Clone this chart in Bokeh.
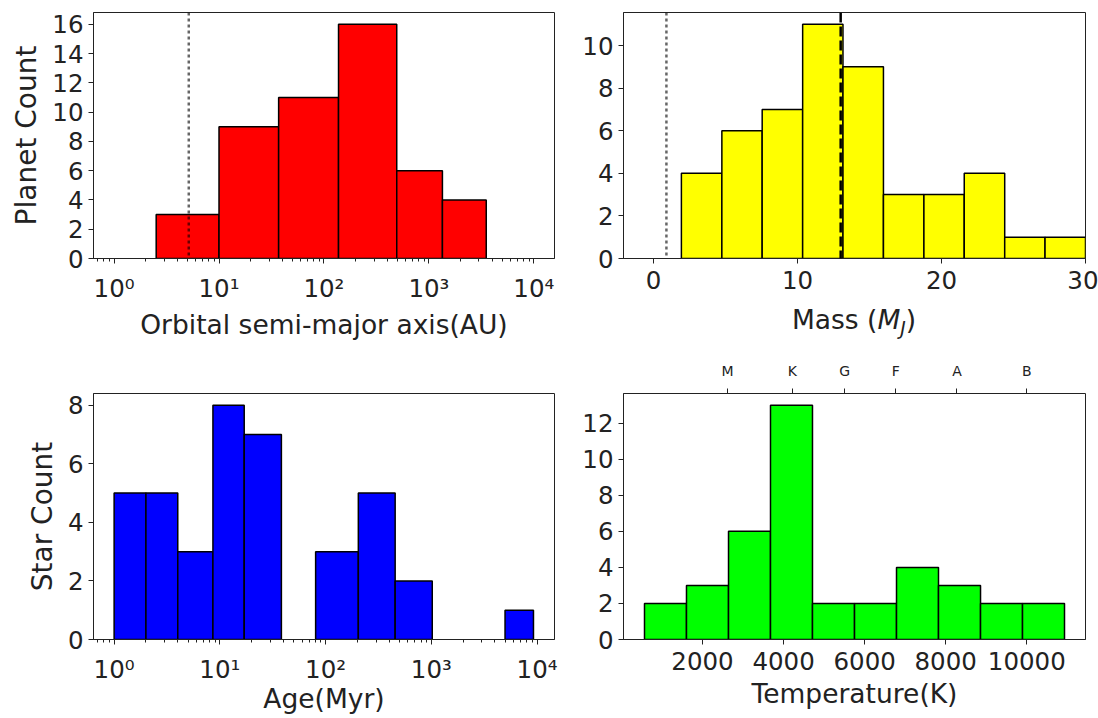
from bokeh.plotting import figure
from bokeh.models import Range1d, FixedTicker, LinearAxis, Span, Div
from bokeh.layouts import column, row
from bokeh.embed import file_html
from bokeh.resources import INLINE

# ---------------- data ----------------
semi_major_edges = [2.52, 10.0, 37.0, 137.7, 494.0, 1346.0, 3520.0]
planet_counts_sma = [3, 9, 11, 16, 6, 4]

mass_edges = [1.94, 4.75, 7.55, 10.36, 13.16, 15.97, 18.78, 21.58, 24.39, 27.19, 30.0]
planet_counts_mass = [4, 6, 7, 11, 9, 3, 3, 4, 1, 1]

age_left = [1.0, 2.0, 4.0, 8.6, 17.0, 80.5, 204.0, 455.0, 4980.0]
age_right = [2.0, 4.0, 8.6, 17.0, 38.2, 204.0, 455.0, 1021.0, 9250.0]
star_counts_age = [5, 5, 3, 8, 7, 3, 5, 2, 1]

temp_edges = [568, 1604, 2641, 3677, 4713, 5750, 6786, 7822, 8859, 9895, 10931]
star_counts_temp = [2, 3, 6, 13, 2, 2, 4, 3, 2, 2]

spectral_types = ["M", "K", "G", "F", "A", "B"]
spectral_temps = [2617, 4213, 5506, 6765, 8277, 10000]

jupiter_orbit_au = 5.15
jupiter_mass = 0.9
deuterium_limit = 13.0

log_ticks = [1, 10, 100, 1000, 10000]
log_labels = ["10\u2070", "10\u00b9", "10\u00b2", "10\u00b3", "10\u2074"]

# ---------------- styling ----------------
FONT = "DejaVu Sans"
TXT = "#222222"
TICK_FS = "24.5px"
XLABEL_FS = "26.5px"
YLABEL_FS = "28px"


def make_fig(x_range, y_range, x_type, bl, br, bt, bb, fw, fh):
    p = figure(x_axis_type=x_type, x_range=x_range, y_range=y_range,
               frame_width=fw, frame_height=fh,
               min_border_left=bl, min_border_right=br,
               min_border_top=bt, min_border_bottom=bb,
               output_backend="svg", toolbar_location=None)
    p.grid.visible = False
    p.outline_line_color = "#222222"
    p.outline_line_width = 1
    p.background_fill_color = "white"
    p.border_fill_color = "white"
    for ax in p.axis:
        ax.axis_line_color = "#222222"
        ax.axis_line_width = 1
        ax.major_tick_line_color = "#222222"
        ax.minor_tick_line_color = "#222222"
        ax.major_tick_out = 5
        ax.major_tick_in = 0
        ax.minor_tick_out = 3
        ax.minor_tick_in = 0
        ax.major_label_text_font = FONT
        ax.major_label_text_font_size = TICK_FS
        ax.major_label_text_color = TXT
        ax.major_label_standoff = 5
        ax.axis_label_text_font = FONT
        ax.axis_label_text_font_size = XLABEL_FS
        ax.axis_label_text_font_style = "normal"
        ax.axis_label_text_color = TXT
        ax.axis_label_standoff = 6
    p.yaxis.axis_label_text_font_size = YLABEL_FS
    p.xaxis.major_label_standoff = 7
    return p


def log_axis_setup(p, lo, hi):
    minor = [m * 10.0 ** k for k in range(-1, 5) for m in range(2, 10)]
    minor = [v for v in minor if lo <= v <= hi]
    p.xaxis.ticker = FixedTicker(ticks=log_ticks, minor_ticks=minor)
    p.xaxis.major_label_overrides = {t: lab for t, lab in zip(log_ticks, log_labels)}
    p.xaxis.major_label_standoff = 10


def ref_line(p, loc, color, alpha, width, dash):
    p.add_layout(Span(location=loc, dimension="height", line_color=color,
                      line_alpha=alpha, line_width=width, line_dash=dash))


# ---------------- panel 1: semi-major axis ----------------
x1lo, x1hi = 10 ** -0.196, 10 ** 4.197
p1 = make_fig(Range1d(x1lo, x1hi), Range1d(0, 16.8), "log", 93, 10, 12, 86, 461, 246)
p1.quad(left=semi_major_edges[:-1], right=semi_major_edges[1:], bottom=0,
        top=planet_counts_sma, fill_color="#ff0000", line_color="black", line_width=1.5)
log_axis_setup(p1, x1lo, x1hi)
p1.yaxis.ticker = FixedTicker(ticks=list(range(0, 17, 2)))
p1.yaxis.minor_tick_line_color = None
p1.xaxis.axis_label = "Orbital semi-major axis(AU)"
p1.xaxis.axis_label_standoff = 3
p1.yaxis.axis_label = "Planet Count"
ref_line(p1, jupiter_orbit_au, "black", 0.6, 2.5, "3 3")

# ---------------- panel 2: mass ----------------
p2 = make_fig(Range1d(-2.08, 30), Range1d(0, 11.55), "linear", 59, 13, 12, 42, 462, 246)
p2.quad(left=mass_edges[:-1], right=mass_edges[1:], bottom=0,
        top=planet_counts_mass, fill_color="#ffff00", line_color="black", line_width=1.5)
p2.xaxis.ticker = FixedTicker(ticks=[0, 10, 20, 30])
p2.yaxis.ticker = FixedTicker(ticks=list(range(0, 11, 2)))
p2.xaxis.minor_tick_line_color = None
p2.yaxis.minor_tick_line_color = None
ref_line(p2, jupiter_mass, "black", 0.6, 2.5, "3 3")
ref_line(p2, deuterium_limit, "black", 1.0, 2.5, "10 4")

mass_label = Div(
    text=('<div style="width:462px;text-align:center;font-family:\'DejaVu Sans\';'
          'font-size:26.5px;line-height:30px;color:#222222;padding-top:5px;">'
          'Mass (<i>M<sub style="font-size:70%;vertical-align:-0.3em;">J</sub></i>)</div>'),
    width=462, height=44, margin=(0, 13, 0, 59))

# ---------------- panel 3: age ----------------
x3lo, x3hi = 10 ** -0.195, 10 ** 4.165
p3 = make_fig(Range1d(x3lo, x3hi), Range1d(0, 8.4), "log", 93, 10, 49, 79, 461, 246)
p3.quad(left=age_left, right=age_right, bottom=0, top=star_counts_age,
        fill_color="#0000ff", line_color="black", line_width=1.5)
log_axis_setup(p3, x3lo, x3hi)
p3.yaxis.ticker = FixedTicker(ticks=list(range(0, 9, 2)))
p3.yaxis.minor_tick_line_color = None
p3.xaxis.axis_label = "Age(Myr)"
p3.xaxis.axis_label_standoff = -4
p3.yaxis.axis_label = "Star Count"

# ---------------- panel 4: temperature ----------------
p4 = make_fig(Range1d(50, 11449), Range1d(0, 13.65), "linear", 59, 13, 49, 79, 462, 246)
p4.quad(left=temp_edges[:-1], right=temp_edges[1:], bottom=0, top=star_counts_temp,
        fill_color="#00ff00", line_color="black", line_width=1.5)
p4.xaxis.ticker = FixedTicker(ticks=[2000, 4000, 6000, 8000, 10000])
p4.yaxis.ticker = FixedTicker(ticks=list(range(0, 13, 2)))
p4.xaxis.minor_tick_line_color = None
p4.yaxis.minor_tick_line_color = None
p4.xaxis.axis_label = "Temperature(K)"
p4.xaxis.axis_label_standoff = 5
top_axis = LinearAxis(ticker=FixedTicker(ticks=spectral_temps),
                      major_label_overrides={t: s for t, s in zip(spectral_temps, spectral_types)})
top_axis.axis_line_color = None
top_axis.major_tick_line_color = "#222222"
top_axis.major_tick_out = 5
top_axis.major_tick_in = 0
top_axis.minor_tick_line_color = None
top_axis.major_label_text_font = FONT
top_axis.major_label_text_font_size = "14px"
top_axis.major_label_text_color = TXT
top_axis.major_label_standoff = 10
p4.add_layout(top_axis, "above")

layout = column(row(p1, column(p2, mass_label)), row(p3, p4))
open("out.html", "w").write(file_html(layout, INLINE))
